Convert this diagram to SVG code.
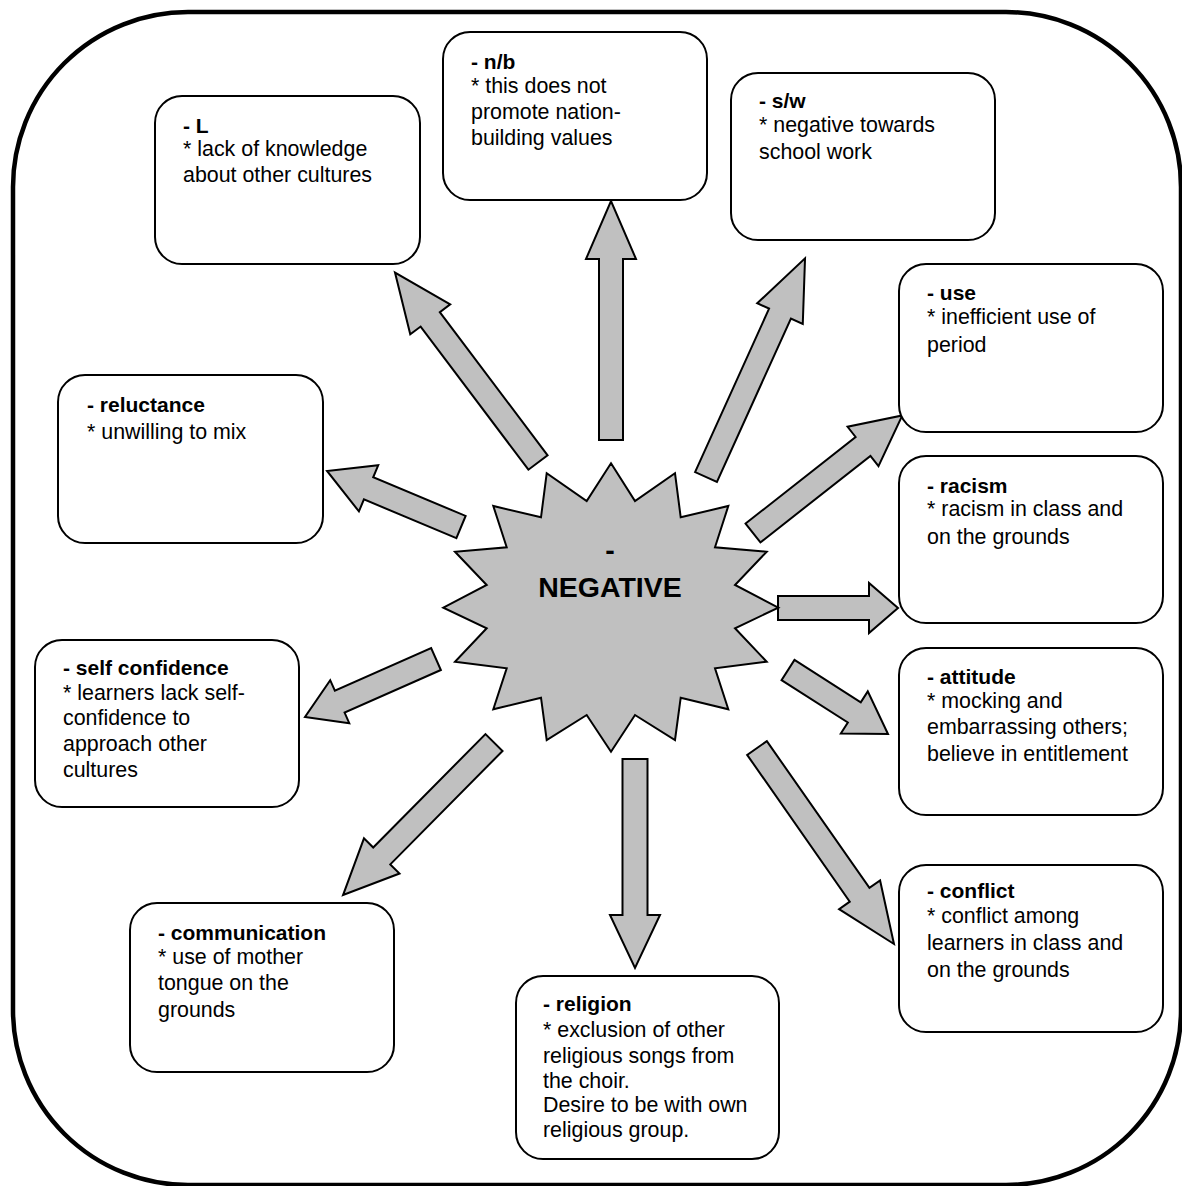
<svg xmlns="http://www.w3.org/2000/svg" width="1182" height="1186" viewBox="0 0 1182 1186">
  <style>
    .frame { fill: none; stroke: #000; stroke-width: 4.5; }
    .box { fill: #fff; stroke: #000; stroke-width: 2; }
    .arrow { fill: #c0c0c0; stroke: #000; stroke-width: 2; stroke-linejoin: miter; }
    .star { fill: #c0c0c0; stroke: #000; stroke-width: 2; stroke-linejoin: miter; }
    text { font-family: "Liberation Sans", Arial, sans-serif; font-size: 21.4px; fill: #000; }
    .t { font-weight: bold; font-size: 21px; }
    .hub { font-size: 28.5px; font-weight: bold; text-anchor: middle; }
  </style>

  <rect class="frame" x="13" y="12" width="1168" height="1173" rx="175" ry="175"/>

  <!-- block arrows from the hub outwards: local x runs tail -> tip -->
  <g id="connectors">
    <polygon class="arrow" transform="translate(538,462.5) rotate(-126.97)" points="0,-12 179.2,-12 179.2,-25 237.8,0 179.2,25 179.2,12 0,12"/>
    <polygon class="arrow" transform="translate(611,440) rotate(-90)" points="0,-12 181,-12 181,-25 239,0 181,25 181,12 0,12"/>
    <polygon class="arrow" transform="translate(706,477) rotate(-65.64)" points="0,-12 179.4,-12 179.4,-25 240.1,0 179.4,25 179.4,12 0,12"/>
    <polygon class="arrow" transform="translate(753,533) rotate(-38.2)" points="0,-12 140,-12 140,-25 190,0 140,25 140,12 0,12"/>
    <polygon class="arrow" transform="translate(778,608) rotate(0)" points="0,-12 91,-12 91,-25 120,0 91,25 91,12 0,12"/>
    <polygon class="arrow" transform="translate(788,670) rotate(32.6)" points="0,-12 78.7,-12 78.7,-25 118.7,0 78.7,25 78.7,12 0,12"/>
    <polygon class="arrow" transform="translate(757,748) rotate(55.05)" points="0,-12 179.1,-12 179.1,-25 239.1,0 179.1,25 179.1,12 0,12"/>
    <polygon class="arrow" transform="translate(635,759) rotate(90)" points="0,-12.5 156,-12.5 156,-25 209,0 156,25 156,12.5 0,12.5"/>
    <polygon class="arrow" transform="translate(494,742.5) rotate(134.7)" points="0,-12 159.6,-12 159.6,-25 214.6,0 159.6,25 159.6,12 0,12"/>
    <polygon class="arrow" transform="translate(436,659) rotate(156.1)" points="0,-12 105.3,-12 105.3,-23.5 143.3,0 105.3,23.5 105.3,12 0,12"/>
    <polygon class="arrow" transform="translate(461,527) rotate(-157.3)" points="0,-12 100.2,-12 100.2,-25 145.2,0 100.2,25 100.2,12 0,12"/>
  </g>

  <g id="hub">
    <polygon class="star" points="611,463.3 635,501 675,473.3 680.7,517.3 728.3,506 715,547.3 766.7,551.7 735,585 778.3,607.7 735,628.3 766.7,661.7 715,668.3 728.3,709.3 680.7,697.7 675,740 635,715 611,751.7 586.7,715 546.7,740 541,697.7 493.3,709.3 506.7,668.3 455,661.7 486.7,628.3 443.3,607.7 486.7,585 455,551.7 506.7,547.3 493.3,506 541,517.3 546.7,473.3 586.7,501"/>
    <text class="hub" x="610" y="560">-</text>
    <text class="hub" x="610" y="597">NEGATIVE</text>
  </g>

  <g id="node-nb">
    <rect class="box" x="443" y="32" width="264" height="168" rx="27"/>
    <text x="471" y="69" class="t">- n/b</text>
    <text x="471" y="93">* this does not</text>
    <text x="471" y="119">promote nation-</text>
    <text x="471" y="145">building values</text>
  </g>

  <g id="node-sw">
    <rect class="box" x="731" y="73" width="264" height="167" rx="27"/>
    <text x="759" y="108" class="t">- s/w</text>
    <text x="759" y="132">* negative towards</text>
    <text x="759" y="159">school work</text>
  </g>

  <g id="node-l">
    <rect class="box" x="155" y="96" width="265" height="168" rx="27"/>
    <text x="183" y="133" class="t">- L</text>
    <text x="183" y="156">* lack of knowledge</text>
    <text x="183" y="182">about other cultures</text>
  </g>

  <g id="node-use">
    <rect class="box" x="899" y="264" width="264" height="168" rx="27"/>
    <text x="927" y="300" class="t">- use</text>
    <text x="927" y="324">* inefficient use of</text>
    <text x="927" y="352">period</text>
  </g>

  <g id="node-reluctance">
    <rect class="box" x="58" y="375" width="265" height="168" rx="27"/>
    <text x="87" y="412" class="t">- reluctance</text>
    <text x="87" y="439">* unwilling to mix</text>
  </g>

  <g id="node-racism">
    <rect class="box" x="899" y="456" width="264" height="167" rx="27"/>
    <text x="927" y="493" class="t">- racism</text>
    <text x="927" y="516">* racism in class and</text>
    <text x="927" y="544">on the grounds</text>
  </g>

  <g id="node-attitude">
    <rect class="box" x="899" y="648" width="264" height="167" rx="27"/>
    <text x="927" y="684" class="t">- attitude</text>
    <text x="927" y="708">* mocking and</text>
    <text x="927" y="734">embarrassing others;</text>
    <text x="927" y="761">believe in entitlement</text>
  </g>

  <g id="node-self-confidence">
    <rect class="box" x="35" y="640" width="264" height="167" rx="27"/>
    <text x="63" y="675" class="t">- self confidence</text>
    <text x="63" y="700">* learners lack self-</text>
    <text x="63" y="725">confidence to</text>
    <text x="63" y="751">approach other</text>
    <text x="63" y="777">cultures</text>
  </g>

  <g id="node-communication">
    <rect class="box" x="130" y="903" width="264" height="169" rx="27"/>
    <text x="158" y="940" class="t">- communication</text>
    <text x="158" y="964">* use of mother</text>
    <text x="158" y="990">tongue on the</text>
    <text x="158" y="1017">grounds</text>
  </g>

  <g id="node-religion">
    <rect class="box" x="516" y="976" width="263" height="183" rx="27"/>
    <text x="543" y="1011" class="t">- religion</text>
    <text x="543" y="1037">* exclusion of other</text>
    <text x="543" y="1063">religious songs from</text>
    <text x="543" y="1088">the choir.</text>
    <text x="543" y="1112">Desire to be with own</text>
    <text x="543" y="1137">religious group.</text>
  </g>

  <g id="node-conflict">
    <rect class="box" x="899" y="865" width="264" height="167" rx="27"/>
    <text x="927" y="898" class="t">- conflict</text>
    <text x="927" y="923">* conflict among</text>
    <text x="927" y="950">learners in class and</text>
    <text x="927" y="977">on the grounds</text>
  </g>
</svg>
